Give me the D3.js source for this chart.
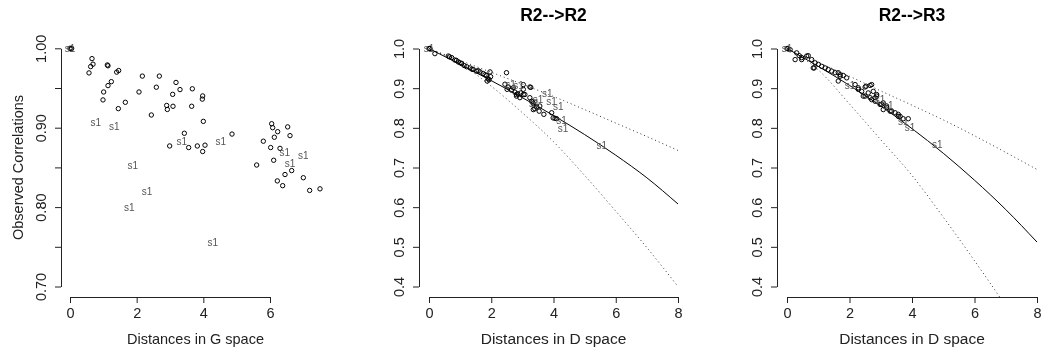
<!DOCTYPE html>
<html>
<head>
<meta charset="utf-8">
<script src="https://cdn.jsdelivr.net/npm/d3@7"></script>
<style>
  body { margin: 0; background: #fff; }
  text { font-family: "Liberation Sans", Arial, Helvetica, sans-serif; }
</style>
</head>
<body>
<script>
// Datos

// Panel 1: distancias en espacio G
const puntosG = [
  [0, 1.0], [0.03, 0.999], [0.05, 1.0], [0.66, 0.987], [0.69, 0.980], [0.62, 0.977], [0.57, 0.969],
  [1.12, 0.979], [1.14, 0.978], [1.46, 0.972], [1.40, 0.970], [1.24, 0.958], [1.14, 0.953],
  [1.01, 0.945], [0.99, 0.935], [1.45, 0.924], [1.66, 0.932], [2.17, 0.965], [2.07, 0.945],
  [2.59, 0.951], [2.68, 0.965], [2.44, 0.916], [3.18, 0.957], [3.30, 0.948], [3.08, 0.942],
  [2.90, 0.928], [2.92, 0.923], [3.09, 0.927], [3.67, 0.949], [3.65, 0.927], [3.98, 0.940],
  [3.97, 0.936], [4.00, 0.908], [3.43, 0.893], [2.99, 0.877], [3.56, 0.875], [3.82, 0.877],
  [4.05, 0.878], [3.98, 0.870], [4.86, 0.892], [6.05, 0.905], [6.08, 0.900], [6.23, 0.895],
  [6.13, 0.888], [6.53, 0.901], [6.60, 0.890], [5.80, 0.883], [6.02, 0.875], [6.30, 0.874],
  [6.11, 0.859], [5.60, 0.853], [6.65, 0.846], [6.45, 0.841], [6.22, 0.833], [6.38, 0.827],
  [7.00, 0.837], [7.19, 0.821], [7.50, 0.823]
]
const etiquetasG = [
  [0, 1.0], [0.77, 0.906], [1.33, 0.901], [3.35, 0.883], [4.52, 0.883], [1.88, 0.852],
  [6.44, 0.869], [7.00, 0.865], [6.60, 0.855], [2.31, 0.820], [1.78, 0.799], [4.28, 0.755]
]
const ticksXG = [0, 2, 4, 6]
const ticksYG = [0.70, 0.75, 0.80, 0.85, 0.90, 0.95, 1.00]
const textosYG = ["0.70", "", "0.80", "", "0.90", "", "1.00"]

// Panel 2: R2-->R2
const puntosR2 = [
  [0, 1.0], [0.02, 0.999], [0.03, 1.0], [0.19, 0.987], [0.62, 0.981], [0.66, 0.979], [0.73, 0.977],
  [0.83, 0.971], [0.88, 0.970], [0.94, 0.966], [1.0, 0.964], [1.05, 0.962], [1.13, 0.957],
  [1.21, 0.954], [1.32, 0.951], [1.38, 0.948], [1.42, 0.947], [1.53, 0.943], [1.58, 0.944],
  [1.64, 0.941], [1.74, 0.937], [1.80, 0.934], [1.85, 0.932], [1.96, 0.941], [1.90, 0.924],
  [1.98, 0.929], [1.87, 0.918], [1.93, 0.921], [2.49, 0.939], [2.44, 0.910], [2.51, 0.897],
  [2.55, 0.903], [2.65, 0.895], [2.71, 0.901], [2.76, 0.890], [2.81, 0.884], [2.81, 0.880],
  [2.92, 0.876], [3.03, 0.909], [3.03, 0.897], [3.03, 0.884], [3.08, 0.884], [3.24, 0.903],
  [3.27, 0.902], [3.24, 0.876], [3.30, 0.867], [3.35, 0.861], [3.33, 0.865], [3.46, 0.853],
  [3.40, 0.848], [3.35, 0.846], [3.56, 0.855], [3.54, 0.842], [3.69, 0.834], [3.94, 0.838],
  [3.99, 0.825], [4.05, 0.824], [4.10, 0.823], [2.85, 0.886], [2.95, 0.888]
]
const etiquetasR2 = [
  [0, 1.0], [2.62, 0.908], [2.88, 0.906], [3.38, 0.862], [3.50, 0.872], [3.80, 0.887],
  [3.94, 0.866], [4.15, 0.855], [4.26, 0.818], [4.31, 0.798], [5.55, 0.756]
]

// Panel 3: R2-->R3
const puntosR3 = [
  [0, 1.0], [0.03, 0.999], [0.10, 0.997], [0.31, 0.989], [0.39, 0.982], [0.26, 0.972], [0.47, 0.977],
  [0.47, 0.972], [0.63, 0.981], [0.68, 0.982], [0.79, 0.972], [0.84, 0.951], [0.87, 0.951],
  [0.90, 0.964], [1.0, 0.960], [1.11, 0.955], [1.22, 0.951], [1.32, 0.947], [1.43, 0.943],
  [1.54, 0.939], [1.64, 0.939], [1.70, 0.930], [1.70, 0.934], [1.64, 0.918], [1.80, 0.932],
  [1.91, 0.926], [2.18, 0.909], [2.28, 0.897], [2.28, 0.901], [2.39, 0.892], [2.53, 0.905],
  [2.50, 0.903], [2.60, 0.888], [2.71, 0.909], [2.66, 0.907], [2.76, 0.892], [2.50, 0.880],
  [2.44, 0.880], [2.66, 0.876], [2.71, 0.871], [2.82, 0.876], [2.87, 0.884], [2.87, 0.880],
  [2.82, 0.867], [2.98, 0.859], [3.03, 0.859], [3.08, 0.863], [3.08, 0.846], [3.19, 0.851],
  [3.19, 0.855], [3.30, 0.842], [3.35, 0.842], [3.46, 0.838], [3.56, 0.829], [3.56, 0.834],
  [3.62, 0.829], [3.72, 0.823], [3.88, 0.823]
]
const etiquetasR3 = [
  [0, 1.0], [2.02, 0.907], [2.98, 0.871], [3.24, 0.856], [3.72, 0.817], [3.94, 0.800], [4.81, 0.758]
]

// Curvas: ajuste (sólida) y bandas (punteadas)
const curvaX = [0, 1, 2, 3, 4, 5, 6, 7, 8]
const ajusteR2 = [1.0, 0.960, 0.919, 0.876, 0.831, 0.783, 0.731, 0.674, 0.608]
const altaR2 = [1.0, 0.970, 0.940, 0.910, 0.879, 0.846, 0.812, 0.778, 0.743]
const bajaR2 = [1.0, 0.962, 0.905, 0.838, 0.765, 0.680, 0.590, 0.498, 0.400]
const ajusteR3 = [1.0, 0.955, 0.907, 0.855, 0.798, 0.736, 0.668, 0.594, 0.512]
const altaR3 = [1.0, 0.965, 0.930, 0.893, 0.857, 0.820, 0.780, 0.738, 0.695]
const bajaR3 = [1.0, 0.946, 0.860, 0.770, 0.680, 0.575, 0.465, 0.350, 0.220]

const ticksXD = [0, 2, 4, 6, 8]
const ticksYD = [0.4, 0.5, 0.6, 0.7, 0.8, 0.9, 1.0]
const textosYD = ["0.4", "0.5", "0.6", "0.7", "0.8", "0.9", "1.0"]

const svg = d3.select("body")
  .append("svg")
  .attr("width", 1041)
  .attr("height", 350);

// capa con opacidad casi 1: evita el suavizado de color en los textos
const raiz = svg.append("g").attr("opacity", 0.999);

const colorEje = "#222";

function dibujarPanel(cfg) {
  const x = d3.scaleLinear().domain(cfg.xDom).range(cfg.xRan);
  const y = d3.scaleLinear().domain(cfg.yDom).range(cfg.yRan);
  const G = raiz.append("g");

  // recorte a la región del gráfico
  const idClip = "clip" + cfg.id;
  G.append("clipPath").attr("id", idClip)
    .append("rect")
    .attr("x", cfg.region[0]).attr("y", cfg.region[1])
    .attr("width", cfg.region[2] - cfg.region[0])
    .attr("height", cfg.region[3] - cfg.region[1]);

  // eje Y con etiquetas giradas (estilo R)
  const ejeY = G.append("g")
    .attr("transform", `translate(${cfg.region[0]},0)`)
    .call(d3.axisLeft(y)
      .tickValues(cfg.yTicks)
      .tickFormat((d, i) => cfg.yTextos[i])
      .tickSize(6)
      .tickSizeOuter(0));
  ejeY.attr("font-size", cfg.fuenteTick).attr("font-family", null).attr("color", colorEje);
  ejeY.selectAll(".tick text")
    .attr("x", 0).attr("y", 0).attr("dy", 0)
    .attr("text-anchor", "middle")
    .attr("transform", "translate(-15.5,0) rotate(-90)");

  // eje X
  const ejeX = G.append("g")
    .attr("transform", `translate(0,${cfg.region[3]})`)
    .call(d3.axisBottom(x)
      .tickValues(cfg.xTicks)
      .tickFormat(d3.format("d"))
      .tickSize(6)
      .tickPadding(5)
      .tickSizeOuter(0));
  ejeX.attr("font-size", cfg.fuenteTick).attr("font-family", null).attr("color", colorEje);

  // títulos
  const centroX = (cfg.region[0] + cfg.region[2]) / 2;
  G.append("text")
    .attr("x", centroX).attr("y", 344)
    .attr("text-anchor", "middle")
    .attr("font-size", cfg.fuenteTitulo)
    .attr("fill", colorEje)
    .text(cfg.tituloX);

  if (cfg.tituloY) {
    G.append("text")
      .attr("transform", `translate(22.5,${(cfg.region[1] + cfg.region[3]) / 2}) rotate(-90)`)
      .attr("text-anchor", "middle")
      .attr("font-size", cfg.fuenteTitulo)
      .attr("fill", colorEje)
      .text(cfg.tituloY);
  }
  if (cfg.titulo) {
    G.append("text")
      .attr("x", centroX).attr("y", 21)
      .attr("text-anchor", "middle")
      .attr("font-size", 17.5)
      .attr("font-weight", "bold")
      .attr("fill", "#000")
      .text(cfg.titulo);
  }

  const capa = G.append("g").attr("clip-path", `url(#${idClip})`);

  // curvas
  const linea = d3.line()
    .x(d => x(d[0]))
    .y(d => y(d[1]))
    .curve(d3.curveMonotoneX);

  (cfg.curvas || []).forEach(c => {
    capa.append("path")
      .attr("d", linea(d3.zip(curvaX, c.valores)))
      .attr("fill", "none")
      .attr("stroke", c.punteada ? "#333" : "#000")
      .attr("stroke-width", 1)
      .attr("stroke-dasharray", c.punteada ? "1,3" : null);
  });

  // puntos
  capa.selectAll("circle")
    .data(cfg.puntos)
    .join("circle")
    .attr("cx", d => x(d[0]))
    .attr("cy", d => y(d[1]))
    .attr("r", 2.2)
    .attr("fill", "none")
    .attr("stroke", "#000")
    .attr("stroke-width", 1);

  // etiquetas "s1"
  capa.selectAll("text.s1")
    .data(cfg.etiquetas)
    .join("text")
    .attr("class", "s1")
    .attr("x", d => x(d[0]))
    .attr("y", d => y(d[1]))
    .attr("dy", "0.35em")
    .attr("text-anchor", "middle")
    .attr("font-size", 10)
    .attr("fill", "#555")
    .text("s1");
}

dibujarPanel({
  id: "G",
  xDom: [0, 6], xRan: [70, 270],
  yDom: [0.70, 1.00], yRan: [286.5, 48.3],
  region: [61, 38, 330, 297],
  xTicks: ticksXG, yTicks: ticksYG, yTextos: textosYG,
  fuenteTick: 14.5, fuenteTitulo: 14.5,
  tituloX: "Distances in G space",
  tituloY: "Observed Correlations",
  puntos: puntosG, etiquetas: etiquetasG
});

dibujarPanel({
  id: "R2",
  xDom: [0, 8], xRan: [429, 678],
  yDom: [0.4, 1.0], yRan: [286.5, 48.5],
  region: [419, 38, 688, 297],
  xTicks: ticksXD, yTicks: ticksYD, yTextos: textosYD,
  fuenteTick: 14.5, fuenteTitulo: 15.5,
  tituloX: "Distances in D space",
  titulo: "R2-->R2",
  puntos: puntosR2, etiquetas: etiquetasR2,
  curvas: [
    { valores: ajusteR2 },
    { valores: altaR2, punteada: true },
    { valores: bajaR2, punteada: true }
  ]
});

dibujarPanel({
  id: "R3",
  xDom: [0, 8], xRan: [787, 1037],
  yDom: [0.4, 1.0], yRan: [286.5, 48.5],
  region: [777, 38, 1047, 297],
  xTicks: ticksXD, yTicks: ticksYD, yTextos: textosYD,
  fuenteTick: 14.5, fuenteTitulo: 15.5,
  tituloX: "Distances in D space",
  titulo: "R2-->R3",
  puntos: puntosR3, etiquetas: etiquetasR3,
  curvas: [
    { valores: ajusteR3 },
    { valores: altaR3, punteada: true },
    { valores: bajaR3, punteada: true }
  ]
});
</script>
</body>
</html>
